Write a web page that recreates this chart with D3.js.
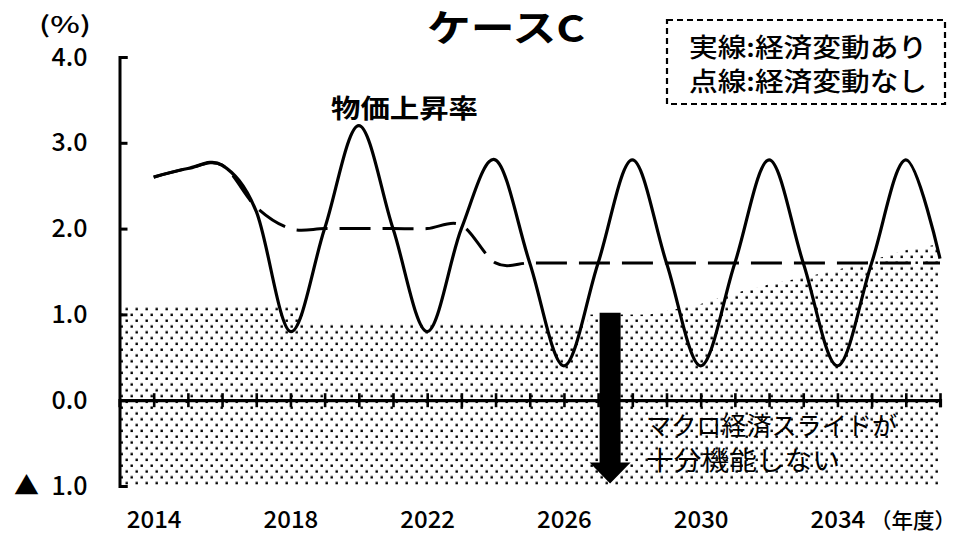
<!DOCTYPE html>
<html>
<head>
<meta charset="utf-8">
<script src="https://cdn.jsdelivr.net/npm/d3@7"></script>
<style>
  html, body { margin: 0; padding: 0; background: #fff; }
  svg { display: block; }
  text { font-family: "Noto Sans CJK JP", "Noto Sans", sans-serif; fill: #000; }
</style>
</head>
<body>
<svg id="chart" width="965" height="535"></svg>
<script>
// ---- data ----
const years = [2014, 2015, 2016, 2017, 2018, 2019, 2020, 2021, 2022, 2023, 2024, 2025,
               2026, 2027, 2028, 2029, 2030, 2031, 2032, 2033, 2034, 2035, 2036, 2037];
// 実線: 経済変動あり (物価上昇率)
const solidValues = [2.60, 2.70, 2.74, 2.20, 0.80, 2.00, 3.20, 2.00, 0.80, 2.00, 2.80, 1.60,
                     0.40, 1.60, 2.80, 1.60, 0.40, 1.60, 2.80, 1.60, 0.40, 1.60, 2.80, 1.65];
// 点線: 経済変動なし
const dashedValues = [2.60, 2.70, 2.74, 2.25, 2.00, 2.00, 2.00, 2.00, 2.00, 2.04, 1.60, 1.60,
                      1.60, 1.60, 1.60, 1.60, 1.60, 1.60, 1.60, 1.60, 1.60, 1.60, 1.60, 1.60];
// shaded (dotted) region top boundary
const shadeYears  = [2013, 2018.4, 2018.4, 2026.7, 2026.7, 2028.5, 2030, 2031, 2032, 2033, 2034, 2035, 2036, 2037];
const shadeValues = [1.10, 1.10,   0.90,   0.90,   1.00,   1.00,   1.12, 1.25, 1.35, 1.43, 1.52, 1.63, 1.75, 1.82];
const shadeBottom = -1.0;
// axis ticks / labels
const yTickValues = [4, 3, 2, 1, 0, -1];
const yTickLabels = ["4.0", "3.0", "2.0", "1.0", "0.0", "▲\u20021.0"];
const xTickYears = years;
const xLabelYears = [2014, 2018, 2022, 2026, 2030, 2034];
const xDomain = [2013, 2037];
const yDomain = [-1, 4];
// annotation arrow (year, from value, to value)
const arrowYear = 2027.35, arrowFrom = 1.02, arrowTo = -0.97;

const title = "ケースC";
const legendLines = ["実線:経済変動あり", "点線:経済変動なし"];
const seriesLabel = "物価上昇率";
const noteLines = ["マクロ経済スライドが", "十分機能しない"];
const unitLabel = "(%)";
const xUnitLabel = "（年度）";

// ---- drawing ----
const svg = d3.select("#chart");
const x = d3.scaleLinear().domain(xDomain).range([119.5, 940]);
const y = d3.scaleLinear().domain(yDomain).range([486, 57]);

const defs = svg.append("defs");
const pat = defs.append("pattern").attr("id", "dots")
  .attr("patternUnits", "userSpaceOnUse").attr("width", 10).attr("height", 11.6);
pat.append("rect").attr("x", 0.5).attr("y", 0.5).attr("width", 2.4).attr("height", 2.4).attr("fill", "#000");
pat.append("rect").attr("x", 5.5).attr("y", 6.3).attr("width", 2.4).attr("height", 2.4).attr("fill", "#000");

// shaded area
const shadeData = shadeYears.map((yr, i) => ({ x: yr, v: shadeValues[i] }));
svg.append("path")
  .datum(shadeData)
  .attr("fill", "url(#dots)")
  .attr("d", d3.area().x(d => x(d.x)).y0(y(shadeBottom)).y1(d => y(d.v)));

// y axis
const yAxis = d3.axisLeft(y).tickValues(yTickValues)
  .tickFormat((d, i) => yTickLabels[i]).tickSize(-8).tickPadding(32);
const gy = svg.append("g").attr("transform", `translate(${x(xDomain[0])},0)`).call(yAxis);
gy.select(".domain").attr("stroke", "#000").attr("stroke-width", 3);
gy.selectAll(".tick line").attr("stroke", "#000").attr("stroke-width", 3);
gy.selectAll(".tick text").attr("font-size", 25).attr("font-weight", 500)
  .attr("font-family", "'Noto Sans CJK JP', sans-serif");

// x axis at 0
const gx = svg.append("g").attr("transform", `translate(0,${y(0)})`);
gx.call(d3.axisBottom(x).tickValues(xTickYears).tickSize(7).tickFormat(""));
gx.select(".domain").attr("stroke", "#000").attr("stroke-width", 3.2);
gx.selectAll(".tick line").attr("stroke", "#000").attr("stroke-width", 2.6).attr("y1", -7);

// x labels along bottom
const gxl = svg.append("g").attr("transform", `translate(0,${y(-1)})`)
  .call(d3.axisBottom(x).tickValues(xLabelYears).tickSize(0).tickPadding(25).tickFormat(d3.format("d")));
gxl.select(".domain").remove();
gxl.selectAll(".tick text").attr("font-size", 24).attr("font-weight", 500)
  .attr("font-family", "'Noto Sans CJK JP', sans-serif");

svg.append("text").attr("x", 870).attr("y", 528).attr("font-size", 21).attr("font-weight", 500)
  .attr("textLength", 86).attr("lengthAdjust", "spacingAndGlyphs").text(xUnitLabel);
svg.append("text").attr("x", 39).attr("y", 33).attr("font-size", 23).attr("font-weight", 500)
  .attr("textLength", 52).attr("lengthAdjust", "spacingAndGlyphs").text(unitLabel);

// lines
const solidData = years.map((yr, i) => ({ x: yr, v: solidValues[i] }));
const dashedData = years.map((yr, i) => ({ x: yr, v: dashedValues[i] }));
const line = d3.line().x(d => x(d.x)).y(d => y(d.v)).curve(d3.curveCardinal.tension(0));

svg.append("path").datum(dashedData).attr("fill", "none").attr("stroke", "#000")
  .attr("stroke-width", 3).attr("stroke-dasharray", "31,12").attr("d", line);
svg.append("path").datum(solidData).attr("fill", "none").attr("stroke", "#000")
  .attr("stroke-width", 3.2).attr("stroke-linejoin", "round").attr("d", line);

// arrow
const ax = x(arrowYear), ay0 = y(arrowFrom), ay1 = y(arrowTo);
const shaftW = 21, headW = 41, headH = 21;
svg.append("path").attr("fill", "#000")
  .attr("d", `M${ax - shaftW / 2},${ay0} L${ax + shaftW / 2},${ay0} L${ax + shaftW / 2},${ay1 - headH} ` +
             `L${ax + headW / 2},${ay1 - headH} L${ax},${ay1} L${ax - headW / 2},${ay1 - headH} ` +
             `L${ax - shaftW / 2},${ay1 - headH} Z`);

// annotation text
svg.append("text").attr("x", 646).attr("y", 435).attr("font-size", 25.5)
  .attr("textLength", 251).attr("lengthAdjust", "spacingAndGlyphs").text(noteLines[0]);
svg.append("text").attr("x", 646).attr("y", 470).attr("font-size", 26)
  .attr("textLength", 194).attr("lengthAdjust", "spacingAndGlyphs").text(noteLines[1]);

// series label
svg.append("text").attr("x", 331).attr("y", 118).attr("font-size", 26).attr("font-weight", 700)
  .attr("textLength", 147).attr("lengthAdjust", "spacingAndGlyphs").text(seriesLabel);

// title
svg.append("text").attr("x", 427).attr("y", 42).attr("font-size", 37).attr("font-weight", 700)
  .attr("textLength", 158).attr("lengthAdjust", "spacingAndGlyphs").text(title);

// legend box
svg.append("rect").attr("x", 667).attr("y", 20).attr("width", 278).attr("height", 84)
  .attr("fill", "#fff").attr("stroke", "#000").attr("stroke-width", 2.2)
  .attr("stroke-dasharray", "6,4");
legendLines.forEach((t, i) => {
  svg.append("text").attr("x", 689).attr("y", 57 + i * 34).attr("font-size", 26)
    .attr("font-weight", 500).attr("textLength", 238).attr("lengthAdjust", "spacingAndGlyphs").text(t);
});
</script>
</body>
</html>
